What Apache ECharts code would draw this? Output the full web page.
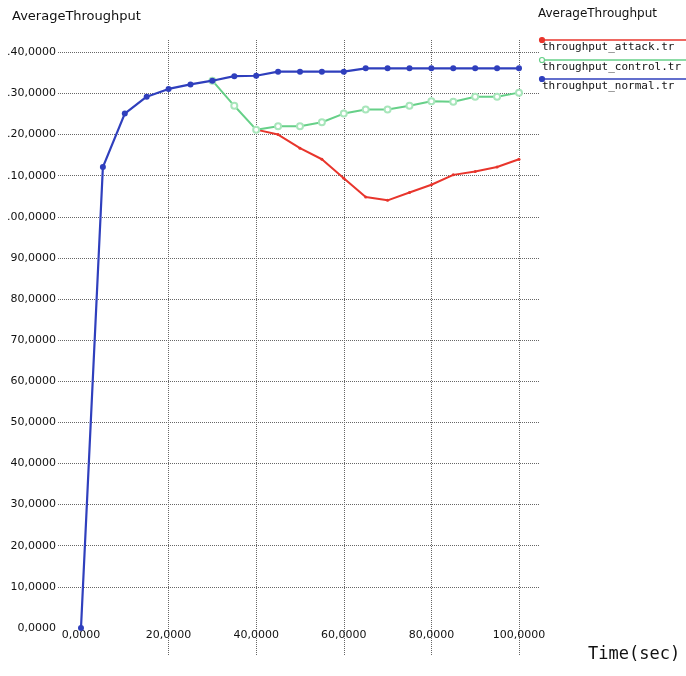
<!DOCTYPE html>
<html>
<head>
<meta charset="utf-8">
<script src="https://cdn.jsdelivr.net/npm/echarts@6/dist/echarts.min.js"></script>
<style>
  html, body { margin: 0; padding: 0; background: #fff; }
  #chart { width: 686px; height: 676px; }
</style>
</head>
<body>
<div id="chart"></div>
<script>
// time in seconds, one sample every 5 s
var times = [0, 5, 10, 15, 20, 25, 30, 35, 40, 45, 50, 55, 60, 65, 70, 75, 80, 85, 90, 95, 100];

var normalValues = [0, 112.1, 125.1, 129.2, 131.1, 132.2, 133.1, 134.2, 134.3, 135.3, 135.3, 135.3, 135.3,
                    136.1, 136.1, 136.1, 136.1, 136.1, 136.1, 136.1, 136.1];
var controlValues = [null, null, null, null, null, null, 133.1, 127.0, 121.2, 122.0, 122.0, 123.0, 125.1,
                     126.1, 126.1, 127.0, 128.1, 128.0, 129.2, 129.2, 130.2];
var attackValues = [null, null, null, null, null, null, null, null, 121.2, 120.0, 116.7, 114.0, 109.4,
                    104.8, 104.0, 105.9, 107.8, 110.2, 111.0, 112.1, 114.0];

var seriesNames = ['throughput_attack.tr', 'throughput_control.tr', 'throughput_normal.tr'];
var seriesColors = ['#e8352c', '#66d088', '#2f3fbd'];

// tick labels as printed (the leading "1" is cut off in the original)
var yTicks = [0, 10, 20, 30, 40, 50, 60, 70, 80, 90, 100, 110, 120, 130, 140];
var yTickLabels = ['0,0000', '10,0000', '20,0000', '30,0000', '40,0000', '50,0000', '60,0000', '70,0000',
                   '80,0000', '90,0000', '.00,0000', '.10,0000', '.20,0000', '.30,0000', '.40,0000'];
var xTicks = [0, 20, 40, 60, 80, 100];
var xTickLabels = ['0,0000', '20,0000', '40,0000', '60,0000', '80,0000', '100,0000'];

function pairs(vals) {
    return times.map(function (t, i) { return [t, vals[i]]; });
}

var chart = echarts.init(document.getElementById('chart'));

var gridLine = { show: true, lineStyle: { color: '#666', width: 1, type: [1, 1] } };

var option = {
    backgroundColor: '#fff',
    animation: false,
    title: {
        text: 'AverageThroughput',
        left: 7, top: 5,
        textStyle: { fontFamily: 'DejaVu Sans', fontSize: 13, fontWeight: 'normal', color: '#111' }
    },
    grid: { left: 58, right: 146, top: 40, bottom: 21 },
    xAxis: {
        type: 'value',
        min: -5.25, max: 104.8,
        name: 'Time(sec)',
        nameLocation: 'end',
        nameGap: 48,
        nameTextStyle: { fontFamily: 'DejaVu Sans Mono', fontSize: 17, color: '#111', align: 'left' },
        axisLine: { show: false, onZero: false },
        axisTick: { show: false, customValues: [20, 40, 60, 80, 100] },
        splitLine: gridLine,
        axisLabel: {
            customValues: xTicks,
            margin: -25,
            fontFamily: 'DejaVu Sans', fontSize: 11, color: '#111',
            formatter: function (v) { return xTickLabels[xTicks.indexOf(v)]; }
        }
    },
    yAxis: {
        type: 'value',
        min: -6.57, max: 143.0,
        axisLine: { show: false, onZero: false },
        axisTick: { show: false, customValues: yTicks.slice(1) },
        splitLine: gridLine,
        axisLabel: {
            customValues: yTicks,
            margin: 2,
            fontFamily: 'DejaVu Sans', fontSize: 11, color: '#111',
            formatter: function (v) { return yTickLabels[yTicks.indexOf(v)]; }
        }
    },
    series: [
        {
            name: seriesNames[0], type: 'line', data: pairs(attackValues),
            symbol: 'circle', symbolSize: 3, showSymbol: true,
            lineStyle: { color: seriesColors[0], width: 2 },
            itemStyle: { color: seriesColors[0] },
            z: 2
        },
        {
            name: seriesNames[1], type: 'line', data: pairs(controlValues),
            symbol: 'emptyCircle', symbolSize: 6,
            lineStyle: { color: seriesColors[1], width: 2 },
            itemStyle: { color: '#a8e6bb', borderColor: '#4fbf72', borderWidth: 1.5 },
            z: 3
        },
        {
            name: seriesNames[2], type: 'line', data: pairs(normalValues),
            symbol: 'circle', symbolSize: 6,
            lineStyle: { color: seriesColors[2], width: 2.2 },
            itemStyle: { color: seriesColors[2] },
            z: 4
        }
    ],
    graphic: []
};

// legend block in the top right corner: line with a dot, name underneath
var legendTop = [40, 60, 79];
option.graphic.push({
    type: 'text', left: 538, top: 8,
    style: { text: 'AverageThroughput', font: '12px "DejaVu Sans"', fill: '#111' }
});
seriesNames.forEach(function (name, i) {
    var y = legendTop[i];
    option.graphic.push({
        type: 'line', shape: { x1: 542, y1: y, x2: 686, y2: y },
        style: { stroke: seriesColors[i], lineWidth: 1.5 }
    });
    option.graphic.push({
        type: 'circle', shape: { cx: 542, cy: y, r: 2.5 },
        style: { fill: i === 1 ? '#fff' : seriesColors[i], stroke: seriesColors[i], lineWidth: 1.2 }
    });
    option.graphic.push({
        type: 'text', left: 542, top: y + 2,
        style: { text: name, font: '11px "DejaVu Sans Mono"', fill: '#111' }
    });
});

chart.setOption(option);
</script>
</body>
</html>
